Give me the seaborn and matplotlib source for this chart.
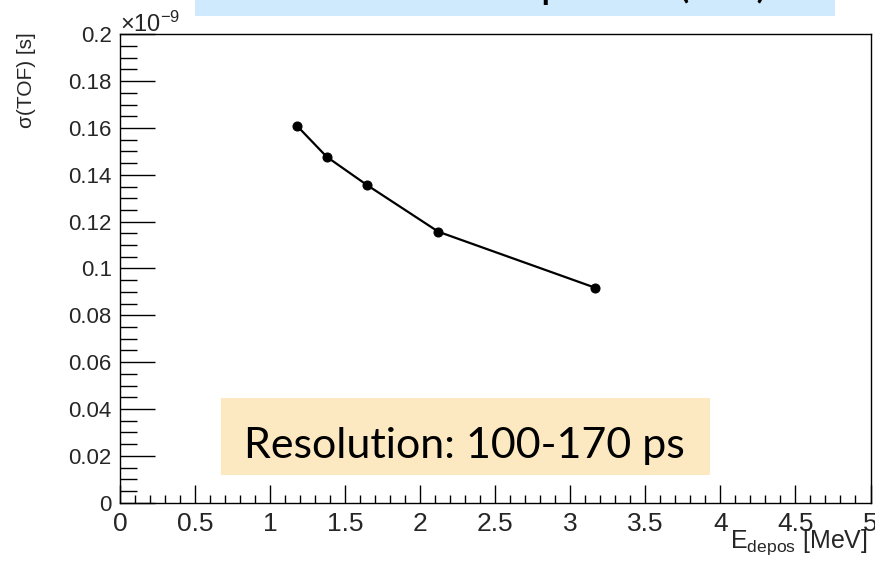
import numpy as np
import pandas as pd
import matplotlib
matplotlib.use("Agg")
import matplotlib.pyplot as plt
from matplotlib.ticker import MultipleLocator, FuncFormatter
from matplotlib.patches import Rectangle
import seaborn as sns

# Deposited energy [MeV] and time-of-flight resolution [s]
e_depos_mev = [1.181, 1.377, 1.644, 2.121, 3.165]
sigma_tof_s = [1.608e-10, 1.477e-10, 1.357e-10, 1.157e-10, 0.918e-10]

title_text = "TOF for Compton e (sim)"
note_text = "Resolution: 100-170 ps"

sns.set_theme(style="white")
plt.rcParams["font.family"] = ["Liberation Sans", "DejaVu Sans"]
plt.rcParams["mathtext.fontset"] = "custom"
plt.rcParams["mathtext.rm"] = "Liberation Sans"
plt.rcParams["mathtext.it"] = "Liberation Sans:italic"

df = pd.DataFrame({"E": e_depos_mev, "sigma": sigma_tof_s})

fig = plt.figure(figsize=(8.75, 5.61), dpi=100)
ax = fig.add_axes([120 / 875, 1 - 502.7 / 561, 750.5 / 875, 468.4 / 561])

sns.lineplot(data=df, x="E", y="sigma", ax=ax, color="black", linewidth=1.6,
             marker="o", markersize=6.5, markeredgecolor="black", sort=False)

ax.set_xlim(0, 5)
ax.set_ylim(0, 0.2e-9)
ax.set_xlabel("")
ax.set_ylabel("")

for s in ax.spines.values():
    s.set_color("black")
    s.set_linewidth(1.0)
    s.set_visible(True)

ax.xaxis.set_major_locator(MultipleLocator(0.5))
ax.xaxis.set_minor_locator(MultipleLocator(0.1))
ax.yaxis.set_major_locator(MultipleLocator(0.02e-9))
ax.yaxis.set_minor_locator(MultipleLocator(0.005e-9))
ax.xaxis.set_major_formatter(FuncFormatter(lambda v, p: f"{round(v, 3):g}"))
ax.yaxis.set_major_formatter(FuncFormatter(lambda v, p: f"{round(v / 1e-9, 4):g}"))

ax.tick_params(axis="x", which="major", direction="in", length=13, width=1,
               color="black", labelsize=19, pad=7, bottom=True, top=False)
ax.tick_params(axis="x", which="minor", direction="in", length=6, width=1,
               color="black", bottom=True, top=False)
ax.tick_params(axis="y", which="major", direction="in", length=25, width=1,
               color="black", labelsize=16, pad=6, left=True, right=False)
ax.tick_params(axis="y", which="minor", direction="in", length=12, width=1,
               color="black", left=True, right=False)

# exponent marker above the y axis
fig.text(120 / 875, 1 - 32 / 561, r"$\times$10$^{-9}$", fontsize=17,
         ha="left", va="baseline")

# axis titles, right/top aligned
fig.text(26 / 875, 1 - 32 / 561, r"σ(TOF) [s]", fontsize=15, rotation=90,
         ha="center", va="top")
fig.text(868 / 875, 1 - 548 / 561, r"E$_{\mathrm{depos}}$ [MeV]", fontsize=18,
         ha="right", va="baseline")

# banner at the top, text mostly above the visible area
fig.patches.append(Rectangle((195 / 875, 1 - 16 / 561), 640 / 875, 16 / 561,
                             transform=fig.transFigure, facecolor="#cfeafc",
                             edgecolor="none", zorder=0))
fig.text(525 / 875, 1 + 3 / 561, title_text, fontsize=32, family="Lato",
         ha="center", va="baseline", color="black")

# annotation box
fig.patches.append(Rectangle((221 / 875, 1 - 475 / 561), 489 / 875, 77 / 561,
                             transform=fig.transFigure, facecolor="#fce9c1",
                             edgecolor="none", zorder=0))
fig.text(464 / 875, 1 - 458 / 561, note_text, fontsize=31, family="Lato",
         ha="center", va="baseline", color="black")

fig.savefig("out.png", dpi=100)
